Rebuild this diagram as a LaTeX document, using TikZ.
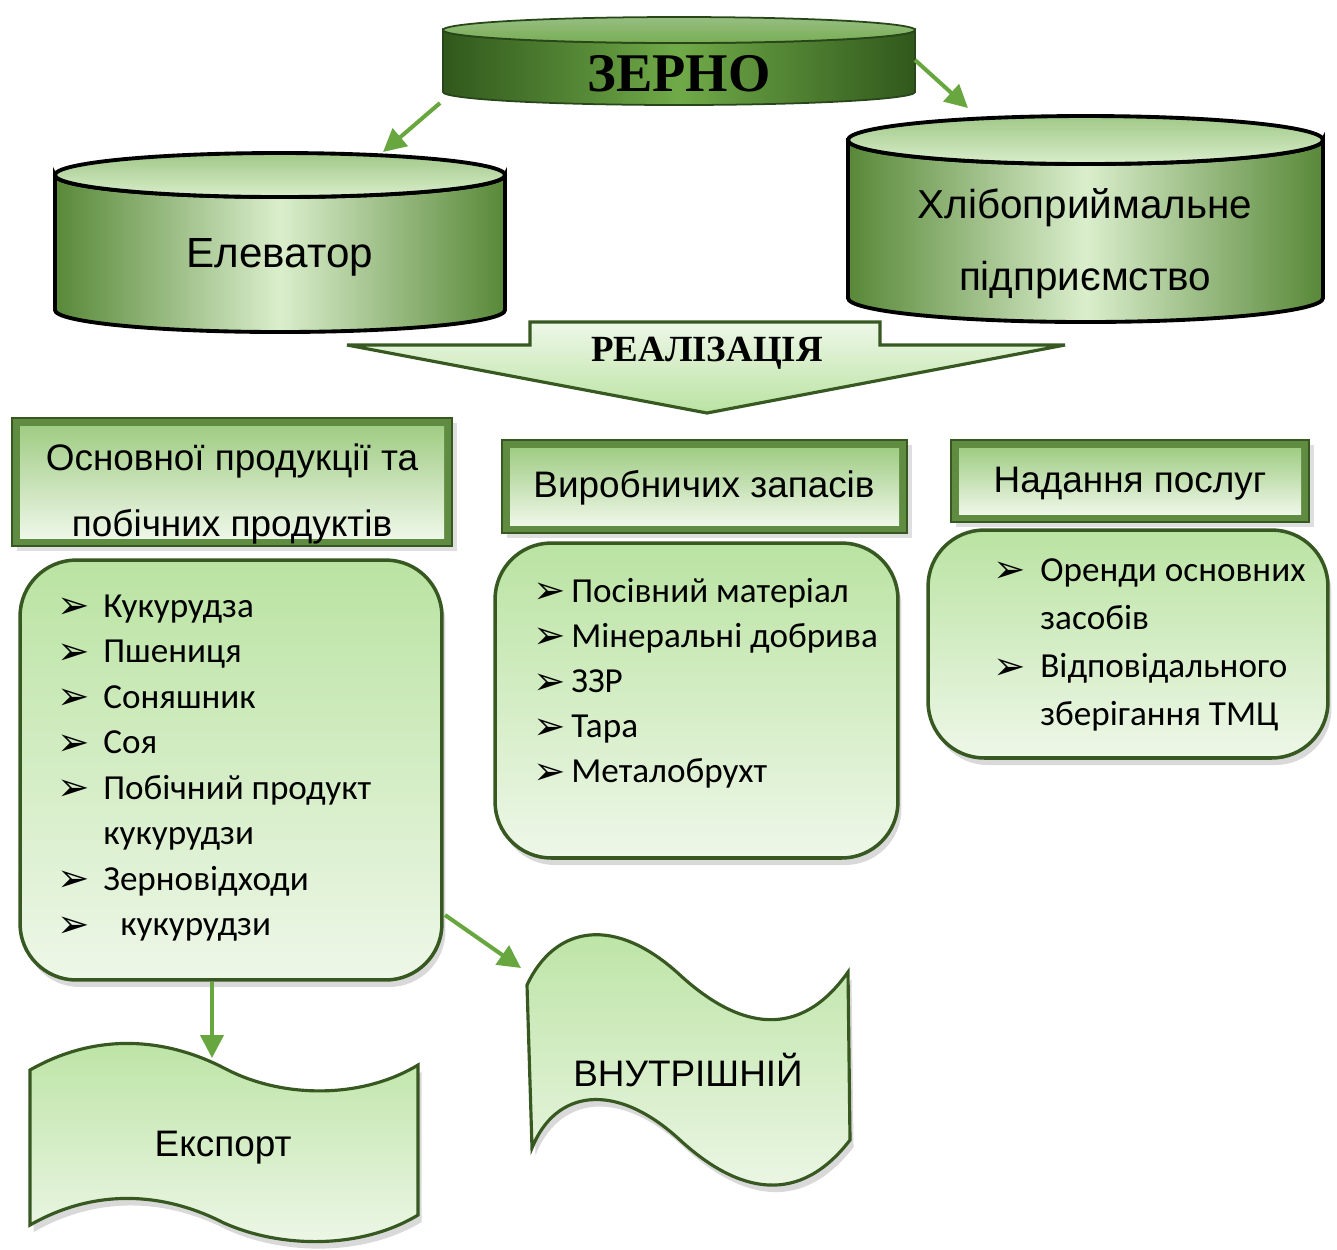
\documentclass[tikz,border=0pt]{standalone}
\usepackage{fontspec}
\setmainfont{Liberation Sans}
\newfontfamily\serifbf{Liberation Serif}
\newfontfamily\listfont{Carlito}
\newfontfamily\symfont{DejaVu Sans}
\usetikzlibrary{arrows.meta,shadows}

\definecolor{zdark}{RGB}{48,88,28}
\definecolor{zmid}{RGB}{112,170,72}
\definecolor{zpale}{RGB}{150,190,130}
\definecolor{zline}{RGB}{40,70,25}
\definecolor{cdark}{RGB}{88,136,56}
\definecolor{clight}{RGB}{218,238,204}
\definecolor{ctop}{RGB}{160,200,135}
\definecolor{ltop}{RGB}{186,227,162}
\definecolor{lbot}{RGB}{238,247,232}
\definecolor{hdark}{RGB}{96,140,66}
\definecolor{hmid}{RGB}{160,204,132}
\definecolor{frame}{RGB}{56,88,34}
\definecolor{arr}{RGB}{104,166,64}

\newcommand{\bul}{\raisebox{-1pt}{\symfont\fontsize{22}{22}\selectfont ➢}}

\tikzset{
  zbody/.style={draw=zline, line width=1pt, left color=zdark, right color=zdark, middle color=zmid},
  ztop/.style={draw=zline, line width=1pt, top color=zpale, bottom color=zmid!80!zpale},
  cylbody/.style={draw=black, line width=2.2pt, left color=cdark, right color=cdark, middle color=clight},
  cyltop/.style={draw=black, line width=2.2pt, top color=ctop, bottom color=clight},
  hframe/.style={draw=frame, line width=1.5pt, fill=hdark, drop shadow={opacity=0.25}},
  hinner/.style={top color=hmid, bottom color=lbot},
  listbox/.style={draw=frame, line width=2pt, rounded corners=32pt, top color=ltop, bottom color=lbot,
    drop shadow={opacity=0.3, shadow xshift=2pt, shadow yshift=-4pt}},
  wave/.style={draw=frame, line width=1.8pt, top color=ltop, bottom color=lbot,
    drop shadow={opacity=0.3, shadow xshift=2pt, shadow yshift=-4pt}},
  greenarrow/.style={draw=arr, line width=2.3pt, -{Triangle[length=13pt,width=13pt]}},
  htext/.style={font=\fontsize{21}{38}\selectfont, align=center},
  ltext/.style={inner sep=0pt, anchor=base west},
}

\begin{document}
\begin{tikzpicture}[x=0.02cm,y=-0.02cm]
\useasboundingbox (0,0) rectangle (1337,1249);

% cylinders
\path[zbody] (443,30) -- (443,92) arc[start angle=180, end angle=0, x radius=236, y radius=13] -- (915,30) arc[start angle=0, end angle=180, x radius=236, y radius=13] -- cycle;
\path[ztop] (679,30) ellipse [x radius=236, y radius=13];
\node[font=\serifbf\bfseries\fontsize{31}{31}\selectfont] (zerno) at (679,74) {ЗЕРНО};

\path[cylbody] (55,175) -- (55,310) arc[start angle=180, end angle=0, x radius=225, y radius=22] -- (505,175) arc[start angle=0, end angle=180, x radius=225, y radius=22] -- cycle;
\path[cyltop] (280,175) ellipse [x radius=225, y radius=22];
\node[font=\fontsize{24}{24}\selectfont] (elev) at (280,257) {Елеватор};

\path[cylbody] (848,140) -- (848,298) arc[start angle=180, end angle=0, x radius=237.5, y radius=24] -- (1323,140) arc[start angle=0, end angle=180, x radius=237.5, y radius=24] -- cycle;
\path[cyltop] (1085.5,140) ellipse [x radius=237.5, y radius=24];
\node[font=\fontsize{23}{41}\selectfont, align=center] (khlib) at (1085,244) {Хлібоприймальне\\підприємство};

% realisation arrow
\path[draw=frame, line width=1.8pt, top color=lbot, bottom color=ltop] (530,322) -- (880,322) -- (880,345) -- (1065,345) -- (707,413) -- (347,345) -- (530,345) -- cycle;
\node[font=\serifbf\bfseries\fontsize{21}{21}\selectfont] (realiz) at (707,353) {РЕАЛІЗАЦІЯ};

% headers
\node[hframe, minimum width=8.8cm, minimum height=2.56cm] (osnhead) at (232,482) {};
\shade[hinner] (20,426) rectangle (444,538);
\node[htext] (osntext) at (232,494) {Основної продукції та\\побічних продуктів};

\node[hframe, minimum width=8.1cm, minimum height=1.86cm] (vyrhead) at (704.5,486.5) {};
\shade[hinner] (510,448) rectangle (899,525);
\node[htext] (vyrtext) at (704,488) {Виробничих запасів};

\node[hframe, minimum width=7.16cm, minimum height=1.64cm] (poslhead) at (1130,481) {};
\shade[hinner] (959,448) rectangle (1301,514);
\node[htext] (posltext) at (1130,484) {Надання послуг};

% lists
\node[listbox, minimum width=8.44cm, minimum height=8.4cm] (osnlist) at (231,770) {};
\node[ltext, font=\listfont\fontsize{20}{25.9}\selectfont] (osnitems) at (57,617) {\begin{tabular}[t]{@{}p{0.92cm}@{}l@{}}
\bul & Кукурудза\\
\bul & Пшениця\\
\bul & Соняшник\\
\bul & Соя\\
\bul & Побічний продукт\\
 & кукурудзи\\
\bul & Зерновідходи\\
\bul & \hspace{0.34cm}кукурудзи
\end{tabular}};

\node[listbox, minimum width=8.06cm, minimum height=6.3cm] (vyrlist) at (696.5,700.5) {};
\node[ltext, font=\listfont\fontsize{20}{25.7}\selectfont] (vyritems) at (533,602) {\begin{tabular}[t]{@{}p{0.76cm}@{}l@{}}
\bul & Посівний матеріал\\
\bul & Мінеральні добрива\\
\bul & ЗЗР\\
\bul & Тара\\
\bul & Металобрухт
\end{tabular}};

\node[listbox, minimum width=8cm, minimum height=4.56cm] (posllist) at (1128,644) {};
\node[ltext, font=\listfont\fontsize{20}{27.5}\selectfont] (poslitems) at (993,581) {\begin{tabular}[t]{@{}p{0.94cm}@{}l@{}}
\bul & Оренди основних\\
 & засобів\\
\bul & Відповідального\\
 & зберігання ТМЦ
\end{tabular}};

% markets
\path[wave] (30,1070) .. controls (100,1030) and (170,1040) .. (224,1068) .. controls (280,1098) and (360,1100) .. (418,1065) -- (418,1215) .. controls (360,1250) and (280,1248) .. (224,1223) .. controls (170,1195) and (100,1185) .. (30,1225) -- cycle;
\node[font=\fontsize{21}{21}\selectfont] (eksport) at (223,1148) {Експорт};

\path[wave] (527,985) .. controls (555,925) and (615,915) .. (680,975) .. controls (740,1030) and (800,1040) .. (848,972) -- (850,1140) .. controls (800,1205) and (740,1195) .. (680,1140) .. controls (615,1080) and (555,1090) .. (532,1148) -- cycle;
\node[font=\fontsize{21}{21}\selectfont] (vnutr) at (688,1070) {ВНУТРІШНІЙ};

% connectors
\coordinate (zerno-left) at (440,103);
\coordinate (zerno-right) at (915,60);
\coordinate (elev-top) at (383,152);
\coordinate (khlib-top) at (968,108);
\coordinate (eksport-top) at (212,1058);
\coordinate (vnutr-top) at (521,968);
\coordinate (osnlist-side) at (445,915);
\draw[greenarrow] (zerno-left) -- (elev-top);
\draw[greenarrow] (zerno-right) -- (khlib-top);
\draw[greenarrow] (osnlist.south -| eksport-top) -- (eksport-top);
\draw[greenarrow] (osnlist-side) -- (vnutr-top);
\end{tikzpicture}
\end{document}
